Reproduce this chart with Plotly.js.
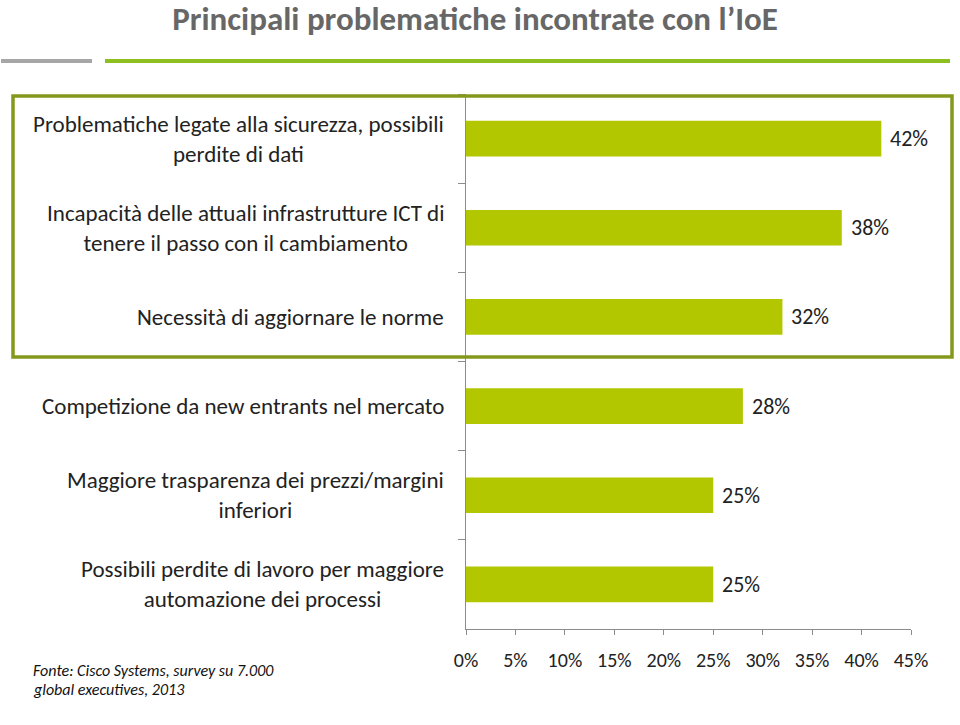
<!DOCTYPE html>
<html>
<head>
<meta charset="utf-8">
<script src="https://cdn.plot.ly/plotly-3.0.1.min.js"></script>
<style>
  html, body { margin: 0; padding: 0; background: #fff; }
  #chart { width: 960px; height: 725px; }
</style>
</head>
<body>
<div id="chart"></div>
<script>
// data
const categories = [
  "Problematiche legate alla sicurezza, possibili<br>perdite di dati",
  "Incapacità delle attuali infrastrutture ICT di<br>tenere il passo con il cambiamento",
  "Necessità di aggiornare le norme",
  "Competizione da new entrants nel mercato",
  "Maggiore trasparenza dei prezzi/margini<br>inferiori",
  "Possibili perdite di lavoro per maggiore<br>automazione dei processi"
];
const values = [42, 38, 32, 28, 25, 25];
const chartTitle = "Principali problematiche incontrate con l’IoE";
const sourceNote = "Fonte: Cisco Systems, survey su 7.000<br>global executives, 2013";

const FONT = "Carlito, Calibri, Lato, sans-serif";
const barColor = "#b2c700";
const axisColor = "#8c8c8c";

// plot area in pixels
const M = { l: 466, r: 49, t: 94, b: 96 };
const W = 960, H = 725;
const px = x => (x - M.l) / (W - M.l - M.r);
const py = y => (H - M.b - y) / (H - M.t - M.b);

const trace = {
  type: "bar",
  orientation: "h",
  x: values,
  y: categories,
  marker: { color: barColor },
  hoverinfo: "none"
};

const annotations = [];

// category labels: right edge at the axis, lines centred on each other
categories.forEach(cat => {
  annotations.push({
    x: 0, y: cat, xref: "x", yref: "y",
    text: cat,
    xanchor: "right", yanchor: "middle", align: "center",
    xshift: -20,
    showarrow: false,
    font: { family: FONT, size: 23, color: "#222" }
  });
});

// value labels
values.forEach((v, i) => {
  annotations.push({
    x: v, y: categories[i], xref: "x", yref: "y",
    text: v + "%",
    xanchor: "left", yanchor: "middle",
    xshift: 7,
    showarrow: false,
    font: { family: FONT, size: 22, color: "#222" }
  });
});

// source note
sourceNote.split("<br>").forEach((line, i) => {
  annotations.push({
    x: px(31), y: py(670 + i * 19), xref: "paper", yref: "paper",
    text: "<i>" + line + "</i>",
    xanchor: "left", yanchor: "middle",
    showarrow: false,
    font: { family: FONT, size: 16, color: "#111" }
  });
});

const shapes = [
  // header rules
  { type: "line", xref: "paper", yref: "paper", x0: px(1), x1: px(92), y0: py(61), y1: py(61),
    line: { color: "#a6a6a6", width: 4 } },
  { type: "line", xref: "paper", yref: "paper", x0: px(105), x1: px(950), y0: py(61), y1: py(61),
    line: { color: "#8cbf1f", width: 4 } },
  // highlight box round the first three rows
  { type: "rect", xref: "paper", yref: "paper", layer: "above",
    x0: px(13), x1: px(952), y0: py(357), y1: py(96),
    line: { color: "#84991c", width: 3.5 } }
];

const layout = {
  width: W,
  height: H,
  paper_bgcolor: "#fff",
  plot_bgcolor: "#fff",
  font: { family: FONT, size: 16, color: "#222" },
  title: {
    text: chartTitle,
    x: 475 / W, xanchor: "center",
    y: 1 - 18 / H, yanchor: "middle", yref: "container",
    font: { family: FONT, size: 33, color: "#676767", weight: 700 }
  },
  showlegend: false,
  bargap: 0.6,
  margin: M,
  xaxis: {
    range: [0, 45],
    dtick: 5,
    ticksuffix: "%",
    showgrid: false,
    zeroline: false,
    showline: true,
    linecolor: axisColor,
    linewidth: 1,
    ticks: "outside",
    ticklen: 5,
    tickcolor: axisColor,
    ticklabelstandoff: 8,
    tickfont: { family: FONT, size: 20, color: "#222" },
    fixedrange: true
  },
  yaxis: {
    autorange: "reversed",
    showgrid: false,
    zeroline: false,
    showline: true,
    linecolor: axisColor,
    linewidth: 1,
    ticks: "outside",
    tickson: "boundaries",
    ticklen: 7,
    tickcolor: axisColor,
    showticklabels: false,
    fixedrange: true
  },
  annotations: annotations,
  shapes: shapes
};

Plotly.newPlot("chart", [trace], layout, { displayModeBar: false, staticPlot: true });
</script>
</body>
</html>
